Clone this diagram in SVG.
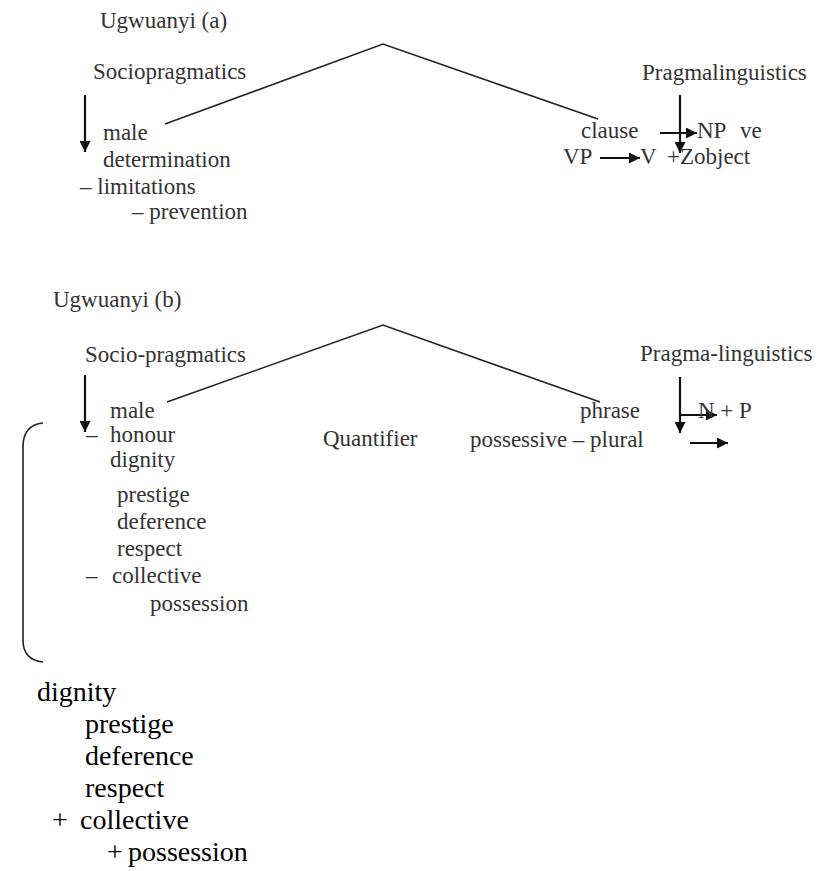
<svg xmlns="http://www.w3.org/2000/svg" width="836" height="871" viewBox="0 0 836 871">
<defs>
<marker id="ah" viewBox="0 0 10 10" refX="10" refY="5" markerUnits="userSpaceOnUse" markerWidth="14" markerHeight="11" orient="auto">
<path d="M0,0 L10,5 L0,10 z" fill="#111"/>
</marker>
</defs>
<rect width="836" height="871" fill="#fff"/>
<g id="connectors" fill="none">
<g stroke="#222" stroke-width="1.6">
<polyline points="165,124 383,44 598,119"/>
<polyline points="167,402 383,325 600,402"/>
<path d="M43,423 Q23,425 23,447 L23,640 Q23,660 43,662"/>
</g>
<g stroke="#111" stroke-width="2.2" marker-end="url(#ah)">
<line x1="85" y1="95" x2="85" y2="152"/>
<line x1="680" y1="95" x2="680" y2="153"/>
<line x1="660" y1="133" x2="697" y2="133"/>
<line x1="600" y1="158" x2="640" y2="158"/>
<line x1="85" y1="375" x2="85" y2="432"/>
<line x1="680" y1="377" x2="680" y2="433"/>
<line x1="680" y1="415" x2="717" y2="415"/>
<line x1="690" y1="443" x2="728" y2="443"/>
</g>
</g>
<g font-family="Liberation Serif" font-size="23" fill="#333">
<g id="title-a"><text font-family="Liberation Serif" x="100" y="28">Ugwuanyi (a)</text></g>
<g id="sociopragmatics-a">
<text font-family="Liberation Serif" x="93" y="79">Sociopragmatics</text>
<text font-family="Liberation Serif" x="103" y="140">male</text>
<text font-family="Liberation Serif" x="103" y="167">determination</text>
<text font-family="Liberation Serif" x="80" y="194">– limitations</text>
<text font-family="Liberation Serif" x="132" y="219">– prevention</text>
</g>
<g id="pragmalinguistics-a">
<text font-family="Liberation Serif" x="642" y="80">Pragmalinguistics</text>
<text font-family="Liberation Serif" x="581" y="138">clause</text>
<text font-family="Liberation Serif" x="697" y="138">NP</text>
<text font-family="Liberation Serif" x="740" y="138">ve</text>
<text font-family="Liberation Serif" x="563" y="164">VP</text>
<text font-family="Liberation Serif" x="640" y="164">V</text>
<text font-family="Liberation Serif" x="667" y="164">+Zobject</text>
</g>
<g id="title-b"><text font-family="Liberation Serif" x="53" y="307">Ugwuanyi (b)</text></g>
<g id="sociopragmatics-b">
<text font-family="Liberation Serif" x="85" y="362">Socio-pragmatics</text>
<text font-family="Liberation Serif" x="110" y="418">male</text>
<text font-family="Liberation Serif" x="86" y="442">–</text>
<text font-family="Liberation Serif" x="110" y="442">honour</text>
<text font-family="Liberation Serif" x="110" y="467">dignity</text>
<text font-family="Liberation Serif" x="117" y="502">prestige</text>
<text font-family="Liberation Serif" x="117" y="529">deference</text>
<text font-family="Liberation Serif" x="117" y="556">respect</text>
<text font-family="Liberation Serif" x="86" y="583">–</text>
<text font-family="Liberation Serif" x="112" y="583">collective</text>
<text font-family="Liberation Serif" x="150" y="611">possession</text>
</g>
<g id="quantifier"><text font-family="Liberation Serif" x="323" y="446">Quantifier</text></g>
<g id="pragmalinguistics-b">
<text font-family="Liberation Serif" x="640" y="361">Pragma-linguistics</text>
<text font-family="Liberation Serif" x="580" y="418">phrase</text>
<text font-family="Liberation Serif" x="698" y="418">N + P</text>
<text font-family="Liberation Serif" x="470" y="447">possessive – plural</text>
</g>
</g>
<g id="list-bottom" font-family="Liberation Serif" font-size="28" fill="#000">
<text font-family="Liberation Serif" x="37" y="701">dignity</text>
<text font-family="Liberation Serif" x="85" y="733">prestige</text>
<text font-family="Liberation Serif" x="85" y="765">deference</text>
<text font-family="Liberation Serif" x="85" y="797">respect</text>
<text font-family="Liberation Serif" x="52" y="829">+</text>
<text font-family="Liberation Serif" x="80" y="829">collective</text>
<text font-family="Liberation Serif" x="107" y="861">+</text>
<text font-family="Liberation Serif" x="128" y="861">possession</text>
</g>
</svg>
